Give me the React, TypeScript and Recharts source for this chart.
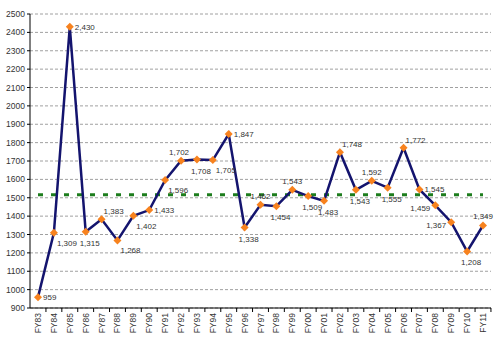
import {
  LineChart, Line, XAxis, YAxis, CartesianGrid, ReferenceLine, LabelList,
} from 'recharts'

const years = [
  'FY83', 'FY84', 'FY85', 'FY86', 'FY87', 'FY88', 'FY89', 'FY90', 'FY91', 'FY92',
  'FY93', 'FY94', 'FY95', 'FY96', 'FY97', 'FY98', 'FY99', 'FY00', 'FY01', 'FY02',
  'FY03', 'FY04', 'FY05', 'FY06', 'FY07', 'FY08', 'FY09', 'FY10', 'FY11',
]
const values = [
  959, 1309, 2430, 1315, 1383, 1268, 1402, 1433, 1596, 1702,
  1708, 1705, 1847, 1338, 1462, 1454, 1543, 1509, 1483, 1748,
  1543, 1592, 1555, 1772, 1545, 1459, 1367, 1208, 1349,
]
// where each data label sits relative to its point
const labelSide = [
  'r', 'br', 'r', 'b', 'ar', 'br', 'br', 'r', 'br', 'al',
  'b', 'br', 'r', 'b', 'a', 'b', 'a', 'b', 'b', 'ar',
  'b', 'a', 'b', 'ar', 'r', 'l', 'l', 'b', 'a',
]
const average = 1517
const yTicks = [900, 1000, 1100, 1200, 1300, 1400, 1500, 1600, 1700, 1800, 1900, 2000, 2100, 2200, 2300, 2400, 2500]

const data = years.map((y, i) => ({ year: y, value: values[i] }))

const FONT = '"Liberation Sans", Arial, sans-serif'
const HALF_BAND = 7.95

const fmt = (v: number) => v.toLocaleString('en-US')

const Diamond = ({ cx, cy }: any) => (
  <path d={`M${cx},${cy - 4}L${cx + 4},${cy}L${cx},${cy + 4}L${cx - 4},${cy}Z`} fill="#f7821e" />
)

const XTick = ({ x, y, payload }: any) => (
  <g>
    <line x1={x + HALF_BAND} y1={y} x2={x + HALF_BAND} y2={y + 4} stroke="#000" />
    <text
      x={0} y={0} transform={`translate(${x + 3},${y + 5}) rotate(-90)`}
      textAnchor="end" fontSize={8.5} fill="#333" fontFamily={FONT}
    >
      {payload.value}
    </text>
  </g>
)

const DataLabel = ({ x, y, value, index }: any) => {
  const side = labelSide[index]
  let dx = 5, dy = 3, anchor = 'start'
  if (side === 'br') { dx = 3; dy = 13 }
  if (side === 'b') { dx = -6; dy = 14 }
  if (side === 'ar') { dx = 2; dy = -5 }
  if (side === 'al') { dx = -12; dy = -6 }
  if (side === 'a') { dx = -10; dy = -6 }
  if (side === 'l') { dx = -5; dy = 6; anchor = 'end' }
  return (
    <text x={x + dx} y={y + dy} textAnchor={anchor} fontSize={8} fill="#333" fontFamily={FONT}>
      {fmt(value)}
    </text>
  )
}

export default function App() {
  return (
    <div style={{ position: 'absolute', left: 0, top: 0, background: '#fff' }}>
      <LineChart width={498} height={343} data={data} margin={{ top: 14, right: 7, left: 0, bottom: 0 }}>
        <CartesianGrid vertical={false} stroke="#a0a0a0" strokeDasharray="3 2" />
        <XAxis
          dataKey="year" height={35} interval={0} padding={{ left: 8, right: 8 }}
          axisLine={{ stroke: '#000' }} tickLine={false} tickSize={0} tickMargin={0}
          tick={<XTick />}
        />
        <YAxis
          width={30} domain={[900, 2500]} ticks={yTicks} interval={0}
          axisLine={{ stroke: '#000' }} tickLine={{ stroke: '#000' }} tickSize={3} tickMargin={2}
          tick={{ fontSize: 8.5, fill: '#333', fontFamily: FONT }}
        />
        <ReferenceLine
          segment={[{ x: 'FY83', y: average }, { x: 'FY11', y: average }]}
          stroke="#1d7d1d" strokeWidth={3} strokeDasharray="5 8"
        />
        <Line
          dataKey="value" stroke="#14146e" strokeWidth={2.5}
          dot={<Diamond />} activeDot={false} isAnimationActive={false}
        >
          <LabelList dataKey="value" content={<DataLabel />} />
        </Line>
      </LineChart>
    </div>
  )
}
